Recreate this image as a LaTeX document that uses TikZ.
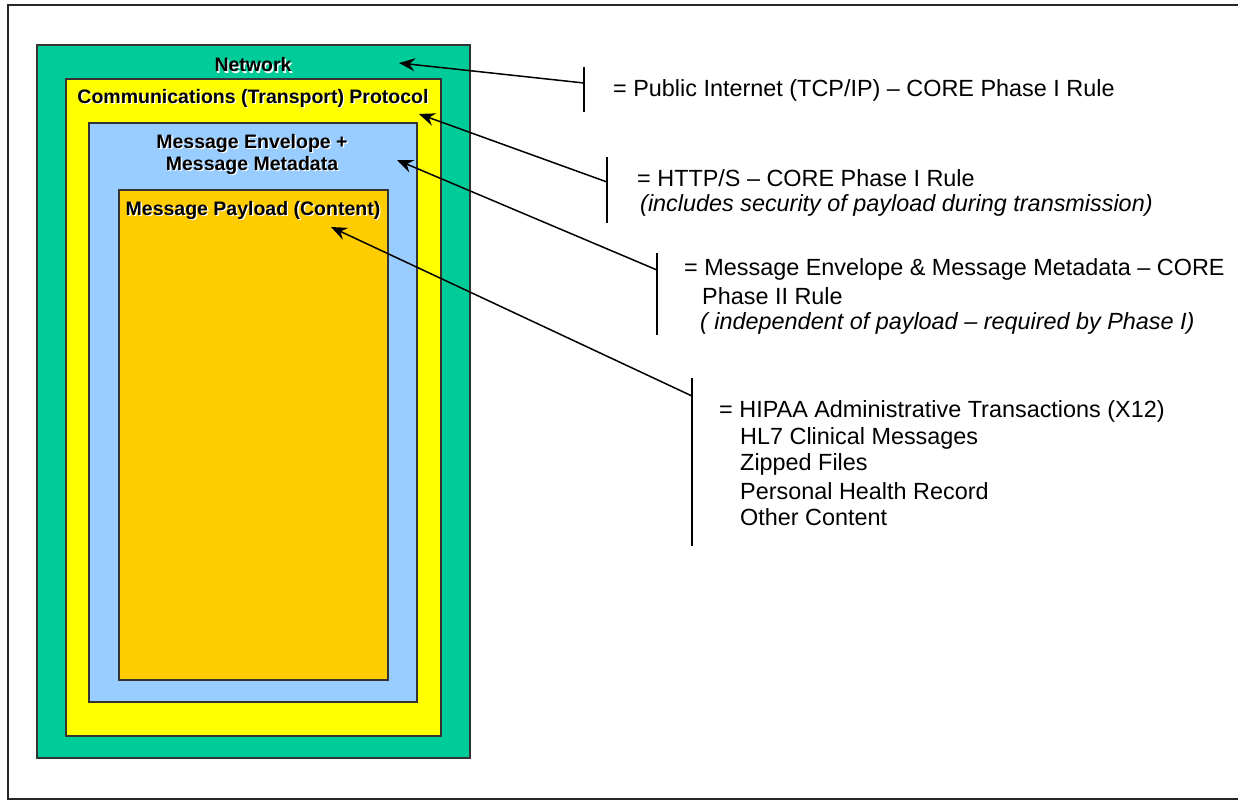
\documentclass[tikz,border=0pt]{standalone}
\usepackage{fontspec}
\setmainfont{Liberation Sans}
\usetikzlibrary{arrows.meta}
\definecolor{netgreen}{HTML}{00CC99}
\definecolor{protyellow}{HTML}{FFFF00}
\definecolor{envblue}{HTML}{99CCFF}
\definecolor{payorange}{HTML}{FFCC00}
\definecolor{edge}{HTML}{333333}
\tikzset{
  frame/.style={draw=black!85, line width=1.8pt},
  layer/.style={draw=edge, line width=1.1pt, inner sep=0pt, outer sep=0pt, anchor=north west},
  boxtxt/.style={inner sep=0pt, font=\fontsize{19.5}{22}\selectfont\bfseries, align=center},
  shadowtxt/.style={boxtxt, text=white, xshift=1.4pt, yshift=-1.4pt},
  bartick/.style={draw=black, line width=1.5pt},
  conn/.style={draw=black, line width=1.5pt, -{Stealth[length=16pt,width=13pt,inset=5.5pt]}},
  desc/.style={inner sep=0pt, anchor=west, font=\fontsize{23.4}{26.5}\selectfont},
  descit/.style={desc, font=\fontsize{23.4}{26.5}\selectfont\itshape}
}
\begin{document}
\begin{tikzpicture}[x=1pt,y=-1pt]
\useasboundingbox (0,0) rectangle (1238,801);
\draw[frame] (8,5) rectangle (1241,799);

% nested boxes
\node[layer, fill=netgreen, minimum width=433pt, minimum height=713pt] (net) at (37,45) {};
\node[layer, fill=protyellow, minimum width=375pt, minimum height=657pt] (prot) at (66,79) {};
\node[layer, fill=envblue, minimum width=328pt, minimum height=579pt] (env) at (89,123) {};
\node[layer, fill=payorange, minimum width=269pt, minimum height=490pt] (pay) at (119,190) {};

% box labels with shadow
\node[shadowtxt] (netS) at (253,65) {Network};
\node[boxtxt] (netL) at (253,65) {Network};
\node[shadowtxt] (protS) at (253,98) {Communications (Transport) Protocol};
\node[boxtxt] (protL) at (253,98) {Communications (Transport) Protocol};
\node[shadowtxt] (envS) at (252,154) {Message Envelope +\\Message Metadata};
\node[boxtxt] (envL) at (252,154) {Message Envelope +\\Message Metadata};
\node[shadowtxt] (payS) at (253,210) {Message Payload (Content)};
\node[boxtxt] (payL) at (253,210) {Message Payload (Content)};

% arrow tips
\coordinate (t1) at (399,63);
\coordinate (t2) at (419,114);
\coordinate (t3) at (397,160);
\coordinate (t4) at (331,227);

% bars
\coordinate (b1top) at (584,67);  \coordinate (b1bot) at (584,112); \coordinate (b1) at (584,83);
\coordinate (b2top) at (607,157); \coordinate (b2bot) at (607,223); \coordinate (b2) at (607,182);
\coordinate (b3top) at (657,253); \coordinate (b3bot) at (657,335); \coordinate (b3) at (657,270);
\coordinate (b4top) at (692,378); \coordinate (b4bot) at (692,546); \coordinate (b4) at (692,396);
\draw[bartick] (b1top) -- (b1bot);
\draw[bartick] (b2top) -- (b2bot);
\draw[bartick] (b3top) -- (b3bot);
\draw[bartick] (b4top) -- (b4bot);

\draw[conn] (b1) -- (t1);
\draw[conn] (b2) -- (t2);
\draw[conn] (b3) -- (t3);
\draw[conn] (b4) -- (t4);

% descriptions
\node[desc] (d1) at (613,90) {= Public Internet (TCP/IP) -- CORE Phase I Rule};
\node[desc] (d2a) at (637,178) {= HTTP/S -- CORE Phase I Rule};
\node[descit] (d2b) at (640,205) {(includes security of payload during transmission)};
\node[desc] (d3a) at (684,269) {= Message Envelope \& Message Metadata -- CORE};
\node[desc] (d3b) at (702,296) {Phase II Rule};
\node[descit] (d3c) at (700,323) {( independent of payload -- required by Phase I)};
\node[desc] (d4a) at (719,411) {= HIPAA Administrative Transactions (X12)};
\node[desc] (d4b) at (740,438) {HL7 Clinical Messages};
\node[desc] (d4c) at (740,464) {Zipped Files};
\node[desc] (d4d) at (740,491) {Personal Health Record};
\node[desc] (d4e) at (740,517) {Other Content};
\end{tikzpicture}
\end{document}
